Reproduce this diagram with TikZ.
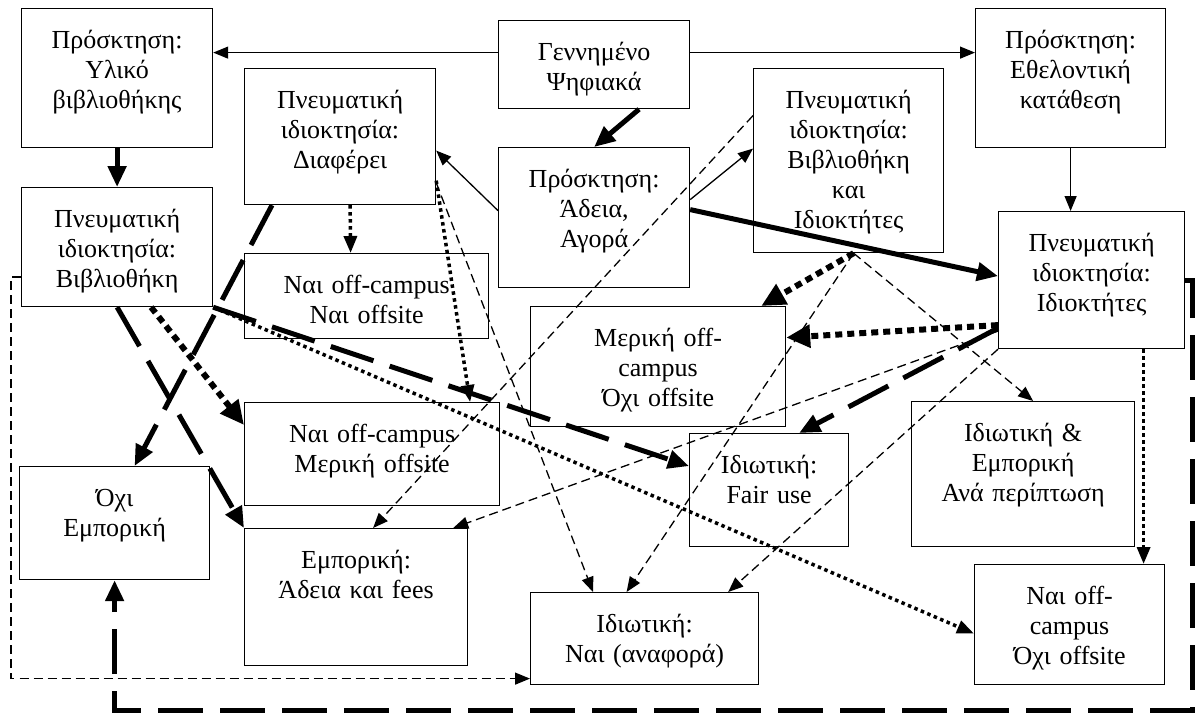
\documentclass[tikz,border=0pt]{standalone}
\usepackage{fontspec}
\setmainfont{Liberation Serif}
\usetikzlibrary{arrows.meta}
\begin{document}
\begin{tikzpicture}[x=1pt, y=-1pt,
        every node/.style={draw, align=center, anchor=north west, inner sep=0pt, text height=40pt, line width=1.2pt, font=\fontsize{26}{30}\selectfont},
        plain/.style={line width=1.3pt, >={Triangle[length=15pt,width=12pt]}},
        heavy/.style={line width=5pt, >={Triangle[length=21pt,width=18pt]}},
        longdash/.style={heavy, dash pattern=on 45pt off 17pt},
        bigdots/.style={line width=6pt, dash pattern=on 7pt off 5pt, >={Triangle[length=24pt,width=22pt]}},
        smalldots/.style={line width=3.5pt, dash pattern=on 3.5pt off 3.5pt, >={Triangle[length=17pt,width=13pt]}},
        thindash/.style={plain, dash pattern=on 9pt off 5pt}]
        \useasboundingbox (0,0) rectangle (1195,713);

        \node[text width=191pt, text depth=99pt] (yliko) at (21,8) {Πρόσκτηση:\\Υλικό\\βιβλιοθήκης};
        \node[text width=191pt, text depth=48pt] (gennimeno) at (498,20) {Γεννημένο\\Ψηφιακά};
        \node[text width=190pt, text depth=99pt] (ethelontiki) at (975,8) {Πρόσκτηση:\\Εθελοντική\\κατάθεση};
        \node[text width=191pt, text depth=96pt] (diaferei) at (244,68) {Πνευματική\\ιδιοκτησία:\\Διαφέρει};
        \node[text width=191pt, text depth=100pt] (adeia) at (498,147) {Πρόσκτηση:\\Άδεια,\\Αγορά};
        \node[text width=190pt, text depth=144pt] (bibidiok) at (753,68) {Πνευματική\\ιδιοκτησία:\\Βιβλιοθήκη\\και\\Ιδιοκτήτες};
        \node[text width=191pt, text depth=79pt] (pnevbib) at (21,187) {Πνευματική\\ιδιοκτησία:\\Βιβλιοθήκη};
        \node[text width=244pt, text depth=45pt] (nainai) at (244,253) {Ναι off-campus\\Ναι offsite};
        \node[text width=186pt, text depth=97pt] (idioktites) at (998,211) {Πνευματική\\ιδιοκτησία:\\Ιδιοκτήτες};
        \node[text width=255pt, text depth=80pt] (meriki) at (530,306) {Μερική off-\\campus\\Όχι offsite};
        \node[text width=255pt, text depth=63pt] (naimeriki) at (244,402) {Ναι off-campus\\Μερική offsite};
        \node[text width=159pt, text depth=73pt] (fairuse) at (689,433) {Ιδιωτική:\\Fair use};
        \node[text width=223pt, text depth=105pt] (idiotemp) at (911,401) {Ιδιωτική \&\\Εμπορική\\Ανά περίπτωση};
        \node[text width=190pt, text depth=73pt] (oxiemp) at (19,466) {Όχι\\Εμπορική};
        \node[text width=223pt, text depth=97pt] (emporiki) at (244,528) {Εμπορική:\\Άδεια και fees};
        \node[text width=190pt, text depth=80pt] (naioxi) at (974,564) {Ναι off-\\campus\\Όχι offsite};
        \node[text width=228pt, text depth=52pt] (idiotnai) at (530,592) {Ιδιωτική:\\Ναι (αναφορά)};
        \coordinate (corner) at (1192,710);

        \draw[plain, ->] ([yshift=12pt]gennimeno.west) -- ([yshift=25.5pt]yliko.east);
        \draw[plain, ->] ([yshift=12pt]gennimeno.east) -- ([yshift=25.5pt]ethelontiki.west);
        \draw[heavy, ->] ([xshift=45pt]gennimeno.south) -- (adeia.north);
        \draw[plain, ->] (ethelontiki.south) -- ([xshift=-21pt]idioktites.north);
        \draw[heavy, ->] (yliko.south) -- (pnevbib.north);
        \draw[plain, ->] ([yshift=7pt]adeia.west) -- ([yshift=-14pt]diaferei.east);
        \draw[plain, ->] ([yshift=18pt]adeia.east) -- ([yshift=12pt]bibidiok.west);
        \draw[heavy, ->] ([yshift=8pt]adeia.east) -- ([yshift=4pt]idioktites.west);
        \draw[smalldots, ->] ([xshift=10pt]diaferei.south) -- ([xshift=-16pt]nainai.north);
        \draw[longdash, ->] ([xshift=28pt]diaferei.south west) -- ([xshift=20pt]oxiemp.north);
        \draw[smalldots, ->] ([yshift=-44pt]diaferei.east) -- ([xshift=98pt]naimeriki.north);
        \draw[thindash, ->] ([yshift=-46pt]diaferei.east) -- ([xshift=63pt]idiotnai.north west);
        \draw[longdash, ->] (pnevbib.south east) -- ([yshift=24pt]fairuse.west);
        \draw[bigdots, ->] ([xshift=34pt]pnevbib.south) -- ([yshift=-23pt]naimeriki.north west);
        \draw[longdash, ->] (pnevbib.south) -- (emporiki.north west);
        \draw[smalldots, ->] (pnevbib.south east) -- ([yshift=-9pt]naioxi.west);
        \draw[thindash, ->] ([yshift=-30pt]pnevbib.west) -- ++(-10,0) |- ([yshift=-40pt]idiotnai.west);
        \draw[thindash, ->] ([yshift=45pt]bibidiok.west) -- ([xshift=17pt]emporiki.north);
        \draw[bigdots, ->] ([xshift=5pt]bibidiok.south) -- ([xshift=-25pt]meriki.north east);
        \draw[thindash, ->] ([xshift=5pt]bibidiok.south) -- ([xshift=-18pt]idiotnai.north);
        \draw[thindash, ->] ([xshift=5pt]bibidiok.south) -- ([xshift=10pt]idiotemp.north);
        \draw[bigdots, ->] ([yshift=-45pt]idioktites.west) -- ([yshift=29pt]meriki.east);
        \draw[longdash, ->] ([yshift=-48pt]idioktites.west) -- ([xshift=30pt]fairuse.north);
        \draw[thindash, ->] ([yshift=-51pt]idioktites.west) -- ([xshift=-15pt]emporiki.north east);
        \draw[thindash, ->] (idioktites.south west) -- ([xshift=-31pt]idiotnai.north east);
        \draw[smalldots, ->] ([xshift=52pt]idioktites.south) -- ([xshift=74pt]naioxi.north);
        \draw[longdash, ->] (idioktites.east) -| (corner) -| (oxiemp.south);
    \end{tikzpicture}
\end{document}
